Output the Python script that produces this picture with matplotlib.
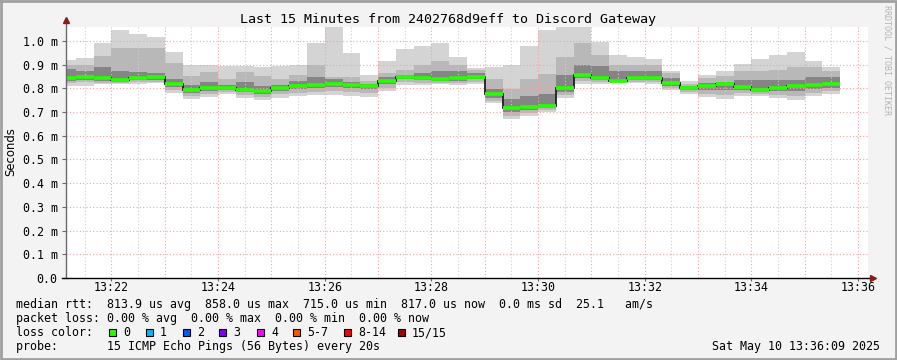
#!/usr/bin/env python3
"""
SmokePing style latency graph: last 15 minutes to Discord Gateway.
"""

import numpy as np
import matplotlib.pyplot as plt
from matplotlib.patches import Rectangle

# time axis (seconds after 13:00), one RRD step = 20 s
step_start = 1260          # 13:21:00
step_len = 20
view_start = 1268.8        # 13:21:09
view_end = 2171.3          # 13:36:11

# smoke bands in ms, one value per 20 s step
rtt_max = [0.921, 0.929, 0.992, 1.046, 1.029, 1.015, 0.954, 0.899, 0.899, 0.893,
           0.893, 0.889, 0.893, 0.899, 0.992, 1.060, 0.950, 0.857, 0.917, 0.968,
           0.979, 0.992, 0.933, 0.886, 0.892, 0.899, 0.979, 1.047, 1.060, 1.060,
           0.997, 0.942, 0.933, 0.925, 0.875, 0.833, 0.858, 0.875, 0.904, 0.926,
           0.942, 0.954, 0.917, 0.889]
rtt_hi2 = [0.900, 0.899, 0.937, 0.972, 0.972, 0.972, 0.906, 0.851, 0.871, 0.840,
           0.871, 0.854, 0.838, 0.858, 0.899, 0.847, 0.850, 0.830, 0.865, 0.879,
           0.899, 0.917, 0.900, 0.879, 0.838, 0.796, 0.838, 0.861, 0.933, 0.990,
           0.942, 0.900, 0.897, 0.900, 0.864, 0.819, 0.844, 0.854, 0.872, 0.872,
           0.879, 0.889, 0.889, 0.872]
rtt_hi3 = [0.880, 0.875, 0.889, 0.875, 0.869, 0.864, 0.838, 0.815, 0.825, 0.815,
           0.826, 0.810, 0.815, 0.833, 0.850, 0.838, 0.829, 0.819, 0.849, 0.858,
           0.865, 0.872, 0.872, 0.865, 0.796, 0.754, 0.768, 0.775, 0.858, 0.900,
           0.893, 0.872, 0.872, 0.872, 0.844, 0.810, 0.824, 0.829, 0.836, 0.836,
           0.836, 0.836, 0.850, 0.850]
rtt_median = [0.843, 0.847, 0.842, 0.835, 0.842, 0.847, 0.817, 0.794, 0.800, 0.803,
              0.794, 0.788, 0.800, 0.810, 0.813, 0.819, 0.814, 0.811, 0.832, 0.849,
              0.843, 0.840, 0.842, 0.847, 0.775, 0.717, 0.722, 0.726, 0.800, 0.857,
              0.844, 0.833, 0.842, 0.844, 0.821, 0.803, 0.810, 0.817, 0.806, 0.792,
              0.803, 0.810, 0.814, 0.817]
rtt_lo3 = [0.832, 0.835, 0.832, 0.829, 0.834, 0.837, 0.806, 0.780, 0.788, 0.795,
           0.784, 0.776, 0.789, 0.797, 0.800, 0.805, 0.800, 0.796, 0.818, 0.838,
           0.834, 0.832, 0.832, 0.838, 0.760, 0.700, 0.708, 0.716, 0.785, 0.843,
           0.835, 0.829, 0.834, 0.834, 0.810, 0.792, 0.795, 0.794, 0.792, 0.784,
           0.788, 0.788, 0.797, 0.803]
rtt_lo2 = [0.822, 0.825, 0.824, 0.824, 0.826, 0.829, 0.795, 0.766, 0.776, 0.785,
           0.772, 0.763, 0.775, 0.782, 0.786, 0.788, 0.784, 0.780, 0.803, 0.826,
           0.824, 0.824, 0.823, 0.829, 0.748, 0.685, 0.695, 0.707, 0.772, 0.830,
           0.827, 0.825, 0.828, 0.826, 0.801, 0.784, 0.778, 0.772, 0.779, 0.776,
           0.772, 0.768, 0.782, 0.790]
rtt_min = [0.812, 0.812, 0.817, 0.820, 0.820, 0.822, 0.782, 0.754, 0.765, 0.775,
           0.761, 0.750, 0.760, 0.767, 0.772, 0.772, 0.768, 0.764, 0.790, 0.815,
           0.814, 0.817, 0.814, 0.820, 0.739, 0.672, 0.685, 0.699, 0.761, 0.820,
           0.820, 0.822, 0.822, 0.820, 0.794, 0.778, 0.764, 0.754, 0.768, 0.768,
           0.758, 0.751, 0.768, 0.778]

x_ticks = [1320, 1440, 1560, 1680, 1800, 1920, 2040, 2160]
x_labels = ["13:22", "13:24", "13:26", "13:28", "13:30", "13:32", "13:34", "13:36"]
y_ticks = [0.0, 0.1, 0.2, 0.3, 0.4, 0.5, 0.6, 0.7, 0.8, 0.9, 1.0]
y_labels = ["0.0", "0.1 m", "0.2 m", "0.3 m", "0.4 m", "0.5 m",
            "0.6 m", "0.7 m", "0.8 m", "0.9 m", "1.0 m"]

loss_labels = ["0", "1", "2", "3", "4", "5-7", "8-14", "15/15"]
loss_colors = ["#26ff00", "#00b8ff", "#0059ff", "#7e00ff", "#ff00ff",
               "#ff5500", "#ff0000", "#a10000"]

legend_lines = [
    "median rtt:  813.9 us avg  858.0 us max  715.0 us min  817.0 us now  0.0 ms sd  25.1   am/s",
    "packet loss: 0.00 % avg  0.00 % max  0.00 % min  0.00 % now",
    "loss color:",
    "probe:       15 ICMP Echo Pings (56 Bytes) every 20s",
]
title = "Last 15 Minutes from 2402768d9eff to Discord Gateway"
stamp = "Sat May 10 13:36:09 2025"

MONO = "DejaVu Sans Mono"
W, H = 897, 360


def main():
    n = len(rtt_median)
    edges = np.arange(n + 1) * step_len + step_start

    fig = plt.figure(figsize=(W / 100, H / 100), dpi=100, facecolor="#f3f3f3")

    # plot area in pixel coords: x 66..868, y 27..278
    ax = fig.add_axes([66 / W, 1 - 278 / H, (868 - 66) / W, (278 - 27) / H])
    ax.set_facecolor("white")
    ax.set_xlim(view_start, view_end)
    ax.set_ylim(0, 1.059)

    # smoke
    ax.stairs(rtt_max, edges, baseline=rtt_min, fill=True,
              color="#d4d4d4", lw=0, zorder=1)
    ax.stairs(rtt_hi2, edges, baseline=rtt_lo2, fill=True,
              color="#b8b8b8", lw=0, zorder=1.1)
    ax.stairs(rtt_hi3, edges, baseline=rtt_lo3, fill=True,
              color="#858585", lw=0, zorder=1.2)

    # grid
    dot = (0, (1, 2))
    for t in np.arange(1290, view_end, 60):
        ax.axvline(t, color="#cfcfcf", ls=dot, lw=0.8, zorder=3)
    for t in np.arange(1320, view_end, 60):
        ax.axvline(t, color="#ff9c9c", ls=dot, lw=0.8, zorder=3)
    for v in y_ticks[1:]:
        ax.axhline(v, color="#ff9c9c", ls=dot, lw=0.8, zorder=3)

    # median line
    ax.stairs(rtt_median, edges, baseline=None, color="#202020", lw=1.3, zorder=4)
    ax.hlines(rtt_median, edges[:-1], edges[1:], color="#26ff00", lw=2.6, zorder=5)

    # axes
    for s in ["top", "right", "left", "bottom"]:
        ax.spines[s].set_visible(False)
    ax.plot([0, 0], [0, 1 + 5 / 251], transform=ax.transAxes, color="#6a6a6a",
            lw=1.0, clip_on=False, zorder=6)
    ax.plot([-4 / 802, 1 + 3 / 802], [0, 0], transform=ax.transAxes, color="black",
            lw=1.0, clip_on=False, zorder=6)
    ax.plot([0], [1 + 7 / 251], marker="^", ms=4.5, color="#8b1a1a",
            transform=ax.transAxes, clip_on=False, zorder=7)
    ax.plot([1 + 5 / 802], [0], marker=">", ms=4.5, color="#8b1a1a",
            transform=ax.transAxes, clip_on=False, zorder=7)

    ax.set_xticks(x_ticks)
    ax.set_xticklabels(x_labels, family=MONO, fontsize=8.4)
    ax.set_yticks(y_ticks)
    ax.set_yticklabels(y_labels, family=MONO, fontsize=8.4)
    ax.tick_params(axis="y", length=3, width=0.8, color="#6a6a6a",
                   direction="out", pad=3, labelcolor="black")
    ax.tick_params(axis="x", length=2, width=0.8, color="#6a6a6a",
                   direction="out", pad=0.5, labelcolor="black")

    # overlay in pixel coordinates for texts and frame
    ov = fig.add_axes([0, 0, 1, 1], facecolor="none")
    ov.set_xlim(0, W)
    ov.set_ylim(H, 0)
    ov.axis("off")

    ov.text(448, 19, title, family=MONO, fontsize=9.6, ha="center", va="center")
    ov.text(11, 152, "Seconds", family="DejaVu Sans", fontsize=8.4,
            rotation=90, ha="center", va="center")
    ov.text(887, 60, "RRDTOOL / TOBI OETIKER", family=MONO, fontsize=6,
            rotation=270, ha="center", va="center", color="#b4b4b4")

    rows_y = [304.5, 318.5, 332.5, 346.5]
    for txt, y in zip(legend_lines, rows_y):
        ov.text(16, y, txt, family=MONO, fontsize=8.4, ha="left", va="center")

    box_x = [109, 146, 183, 219, 257, 293, 344, 398]
    for bx, lab, col in zip(box_x, loss_labels, loss_colors):
        ov.add_patch(Rectangle((bx, rows_y[2] - 3.5), 7, 7, facecolor=col,
                               edgecolor="black", lw=0.8))
        ov.text(bx + 14, rows_y[2], lab, family=MONO, fontsize=8.4,
                ha="left", va="center")

    ov.text(880, rows_y[3], stamp, family=MONO, fontsize=8.4, ha="right", va="center")

    # frame
    ov.plot([0.5, 0.5, W - 1, W - 1, 0.5], [0.5, H - 1, H - 1, 0.5, 0.5],
            color="#a0a0a0", lw=2, clip_on=False)

    fig.savefig("out.png", dpi=100, facecolor=fig.get_facecolor())


if __name__ == "__main__":
    main()
